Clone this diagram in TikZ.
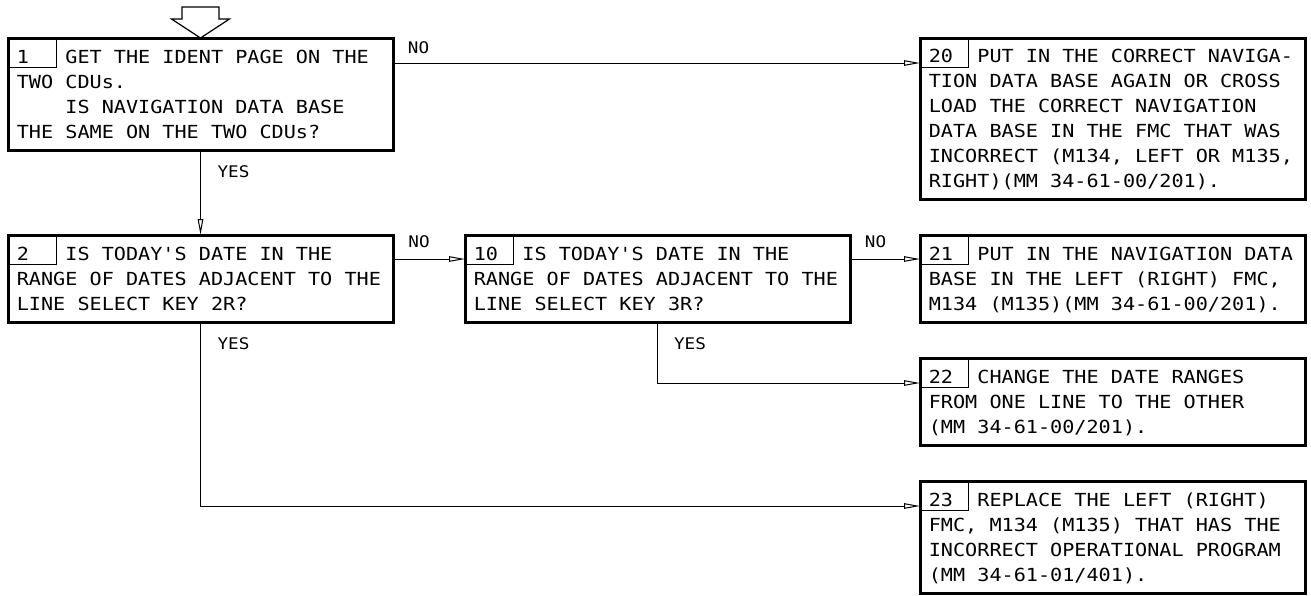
\documentclass[tikz,border=0pt]{standalone}
\usepackage{fontspec}
\usepackage{graphicx}
\newfontfamily\iso{DejaVu Sans Mono}
\usetikzlibrary{arrows.meta}
\newcommand\stl{\rule[-6pt]{0pt}{25pt}}
\newcommand\isosize[1]{\iso\fontsize{#1}{25}\selectfont\frenchspacing}
\newcommand\boxtext[1]{\scalebox{1.12}[1]{\parbox{328pt}{\raggedright\isosize{18}#1}}}
\newcommand\labtext[1]{\scalebox{1.1}[1]{\isosize{16}#1}}
\begin{document}
\begin{tikzpicture}[x=1pt,y=-1pt,
  box/.style={draw, line width=3pt, outer sep=0pt, inner sep=0pt,
    anchor=north west, minimum width=385pt},
  cell/.style={line width=1.2pt},
  conn/.style={line width=1pt, -{Triangle[open, length=16pt, width=5.5pt]}},
  entry/.style={line width=1.2pt},
  lab/.style={inner sep=0pt}]
\path[use as bounding box] (0,0) rectangle (1311,595);

% boxes
\node[box, minimum height=112pt] (b1) at (8,38)
  {\boxtext{\stl 1\phantom{000}GET THE IDENT PAGE ON THE\\TWO CDUs.\\\phantom{0000}IS NAVIGATION DATA BASE\\THE SAME ON THE TWO CDUs?\stl}};
\node[box, minimum height=161pt] (b20) at (920,38)
  {\boxtext{\stl 20\phantom{00}PUT IN THE CORRECT NAVIGA-\\TION DATA BASE AGAIN OR CROSS\\LOAD THE CORRECT NAVIGATION\\DATA BASE IN THE FMC THAT WAS\\INCORRECT (M134, LEFT OR M135,\\RIGHT)(MM 34-61-00/201).\stl}};
\node[box, minimum height=87pt] (b2) at (8,235)
  {\boxtext{\stl 2\phantom{000}IS TODAY'S DATE IN THE\\RANGE OF DATES ADJACENT TO THE\\LINE SELECT KEY 2R?\stl}};
\node[box, minimum height=87pt] (b10) at (465,235)
  {\boxtext{\stl 10\phantom{00}IS TODAY'S DATE IN THE\\RANGE OF DATES ADJACENT TO THE\\LINE SELECT KEY 3R?\stl}};
\node[box, minimum height=87pt] (b21) at (920,235)
  {\boxtext{\stl 21\phantom{00}PUT IN THE NAVIGATION DATA\\BASE IN THE LEFT (RIGHT) FMC,\\M134 (M135)(MM 34-61-00/201).\stl}};
\node[box, minimum height=87pt] (b22) at (920,358)
  {\boxtext{\stl 22\phantom{00}CHANGE THE DATE RANGES\\FROM ONE LINE TO THE OTHER\\(MM 34-61-00/201).\stl}};
\node[box, minimum height=112pt] (b23) at (920,481)
  {\boxtext{\stl 23\phantom{00}REPLACE THE LEFT (RIGHT)\\FMC, M134 (M135) THAT HAS THE\\INCORRECT OPERATIONAL PROGRAM\\(MM 34-61-01/401).\stl}};

% number cells
\foreach \b in {b1,b20,b2,b10,b21,b22,b23}
  \draw[cell] ([xshift=48.5pt]\b.north west) |- ([yshift=-29.5pt]\b.north west);

% entry arrow
\draw[entry] (b1.north) -- ++(-29,-19) -- ++(10.5,0) -- ++(0,-12) -- ++(37,0)
  -- ++(0,12) -- ++(10.5,0) -- cycle;

% connectors
\draw[conn] ([yshift=-25pt]b1.north east) -- ([yshift=-25pt]b20.north west);
\draw[conn] (b1.south) -- (b2.north);
\draw[conn] ([yshift=-24pt]b2.north east) -- ([yshift=-24pt]b10.north west);
\draw[conn] ([yshift=-24pt]b10.north east) -- ([yshift=-24pt]b21.north west);
\draw[conn] (b10.south) |- ([yshift=-25pt]b22.north west);
\draw[conn] (b2.south) |- ([yshift=-25pt]b23.north west);

% labels
\node[lab] (no1) at (418.5,47.5) {\labtext{NO}};
\node[lab] (yes1) at (233.5,172) {\labtext{YES}};
\node[lab] (no2) at (419,241.5) {\labtext{NO}};
\node[lab] (no3) at (875.5,242) {\labtext{NO}};
\node[lab] (yes2) at (690,344) {\labtext{YES}};
\node[lab] (yes3) at (233.5,344) {\labtext{YES}};
\end{tikzpicture}
\end{document}
